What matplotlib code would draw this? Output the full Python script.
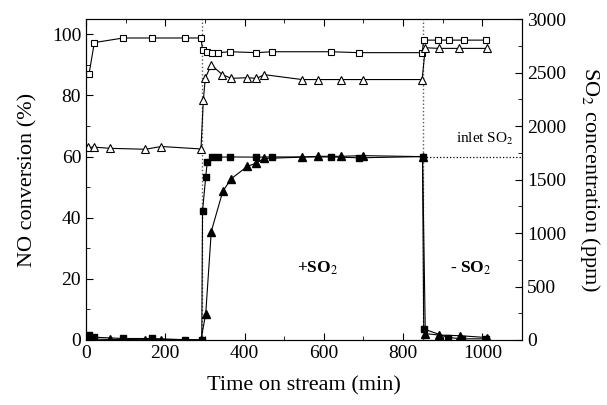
import numpy as np
import matplotlib
matplotlib.use('Agg')
import matplotlib.pyplot as plt
from matplotlib.ticker import MultipleLocator

plt.rcParams['font.family'] = 'Liberation Serif'
plt.rcParams['mathtext.fontset'] = 'stix'

# NO conversion (%), open symbols, left axis
t_sq_open = [7.5, 21, 94, 167, 250, 290, 294, 304, 319, 334, 364, 430, 469, 619, 688, 848,
             852, 888, 915, 953, 1010]
no_sq_open = [86.9, 97.3, 98.8, 98.8, 98.8, 98.8, 94.9, 94.3, 94.0, 94.0, 94.3, 94.0, 94.3, 94.3, 94.0, 94.0,
              98.1, 98.1, 98.1, 98.1, 98.1]
t_tri_open = [6, 21, 61, 150, 190, 290, 296, 301, 316, 344, 367, 407, 430, 450, 545, 585, 644, 700, 848,
              856, 890, 942, 1011]
no_tri_open = [63.0, 63.1, 62.7, 62.4, 63.3, 62.5, 78.5, 85.7, 90.0, 86.8, 85.6, 85.8, 85.6, 86.8, 85.2, 85.2,
               85.2, 85.2, 85.2, 95.6, 95.4, 95.4, 95.4]

# SO2 concentration (ppm), filled symbols, right axis
t_sq_fill = [7.5, 21, 94, 167, 250, 292, 294, 302, 306, 318, 334, 364, 430, 469, 619, 688, 849,
             852, 914, 949, 1010]
so2_sq_fill = [46, 26, 14, 14, 3, 0, 1206, 1526, 1666, 1706, 1709, 1711, 1709, 1711, 1711, 1703, 1714,
               103, 23, 11, 11]
t_tri_fill = [6, 21, 61, 150, 190, 290, 302, 316, 345, 366, 407, 430, 450, 545, 585, 644, 700, 849,
              856, 890, 944, 1011]
so2_tri_fill = [10, 8, 5, 3, 3, 2, 243, 1014, 1389, 1506, 1623, 1654, 1697, 1709, 1717, 1717, 1723, 1714,
                60, 46, 40, 23]

inlet_so2 = 1714
t_switch = [292, 850]

fig = plt.figure(figsize=(6.07, 4.05), dpi=100)
ax = fig.add_axes([0.1417, 0.1605, 0.7183, 0.7925])
ax2 = ax.twinx()

for t in t_switch:
    ax.axvline(t, color='0.35', ls=':', lw=1.0, zorder=1)

ax.plot(t_sq_open, no_sq_open, '-', color='k', lw=0.8, marker='s', ms=4, mfc='white', mec='k', mew=0.8)
ax.plot(t_tri_open, no_tri_open, '-', color='k', lw=0.8, marker='^', ms=6, mfc='white', mec='k', mew=0.8)

ax2.plot([850, 1100], [inlet_so2, inlet_so2], ':', color='k', lw=0.9)
ax2.plot(t_sq_fill, so2_sq_fill, '-', color='k', lw=0.8, marker='s', ms=4, mfc='k', mec='k')
ax2.plot(t_tri_fill, so2_tri_fill, '-', color='k', lw=0.8, marker='^', ms=5.5, mfc='k', mec='k')

ax.set_xlim(0, 1100)
ax.set_ylim(0, 105)
ax2.set_ylim(0, 3000)

ax.xaxis.set_major_locator(MultipleLocator(200))
ax.xaxis.set_minor_locator(MultipleLocator(100))
ax.yaxis.set_major_locator(MultipleLocator(20))
ax.yaxis.set_minor_locator(MultipleLocator(10))
ax2.yaxis.set_major_locator(MultipleLocator(500))
ax2.yaxis.set_minor_locator(MultipleLocator(250))

ax.tick_params(which='both', direction='in', top=True, labelsize=14)
ax.tick_params(which='major', length=5)
ax.tick_params(which='minor', length=3)
ax2.tick_params(which='both', direction='in', labelsize=14)
ax2.tick_params(which='major', length=5)
ax2.tick_params(which='minor', length=3)

ax.set_xlabel('Time on stream (min)', fontsize=16, labelpad=10)
ax.set_ylabel('NO conversion (%)', fontsize=16, labelpad=10)
ax2.set_ylabel('SO$_2$ concentration (ppm)', fontsize=16, rotation=270, labelpad=26)

ax.text(585, 23.5, '+SO$_2$', fontsize=12.5, fontweight='bold', ha='center', va='center')
ax.text(970, 23.5, '- SO$_2$', fontsize=12.5, fontweight='bold', ha='center', va='center')
ax.text(1080, 63, 'inlet SO$_2$', fontsize=11, ha='right', va='bottom')

plt.savefig('out.png', dpi=100)
